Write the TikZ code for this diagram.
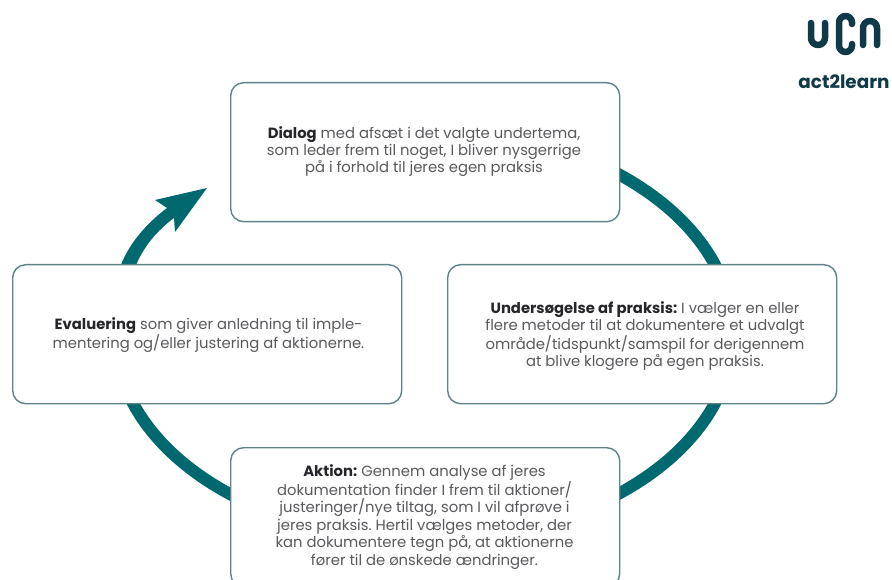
\documentclass[tikz,border=0pt]{standalone}
\usepackage{fontspec}
\setmainfont{Poppins}
\frenchspacing
\definecolor{ringteal}{HTML}{00696F}
\definecolor{boxedge}{HTML}{5F8388}
\definecolor{bodytext}{HTML}{5A5A5E}
\definecolor{headtext}{HTML}{26262A}
\definecolor{logoink}{HTML}{10394A}
\tikzset{
  card/.style={draw=boxedge,line width=1.4pt,fill=white,rounded corners=13pt,anchor=north west,inner sep=0pt},
  cardtext/.style={align=center,font=\fontsize{14.8}{17.4}\selectfont,text=bodytext,inner sep=0pt},
  ringline/.style={draw=ringteal,line width=12pt},
  logostroke/.style={draw=logoink,line width=6.5pt,line cap=round,line join=round}
}
\newcommand{\hd}[1]{\textcolor{headtext}{\textbf{#1}}}
\begin{document}
\begin{tikzpicture}[x=1pt,y=-1pt]
\useasboundingbox (0,0) rectangle (892,580);
\clip (0,0) rectangle (892,580);
\fill[white] (0,0) rectangle (892,580);
% ring arcs
\coordinate (ringA) at ({424+309*cos(-53)},{334+205.7*sin(-53)});
\coordinate (ringB) at ({424+309*cos(15)},{334+205.7*sin(15)});
\coordinate (ringC) at ({424+309*cos(127)},{334+205.7*sin(127)});
\draw[ringline] (ringA) arc[start angle=-53,end angle=-15,x radius=309,y radius=205.7];
\draw[ringline] (ringB) arc[start angle=15,end angle=53,x radius=309,y radius=205.7];
\draw[ringline] (ringC) arc[start angle=127,end angle=165,x radius=309,y radius=205.7];
% arrow
\fill[ringteal] (119,270) .. controls (128,244) and (146,224) .. (167,208)
  -- (155,200) -- (207,188) -- (175,232) -- (174,218)
  .. controls (158,230) and (143,246) .. (134,270) -- cycle;
% cards
\node[card,minimum width=389pt,minimum height=139pt] (dialog) at (230,82) {};
\node[card,minimum width=389pt,minimum height=139pt] (evaluering) at (12,264) {};
\node[card,minimum width=389pt,minimum height=139pt] (undersoegelse) at (447,264) {};
\node[card,minimum width=389pt,minimum height=139pt] (aktion) at (230,447) {};
\node[cardtext] (dialogtext) at (424,151.5) {\hd{Dialog} med afsæt i det valgte undertema,\\som leder frem til noget, I bliver nysgerrige\\på i forhold til jeres egen praksis};
\node[cardtext] (evalueringtext) at (208.5,335) {\hd{Evaluering} som giver anledning til imple-\\mentering og/eller justering af aktionerne.};
\node[cardtext] (undersoegelsetext) at (645,336) {\hd{Undersøgelse af praksis:} I vælger en eller\\flere metoder til at dokumentere et udvalgt\\område/tidspunkt/samspil for derigennem\\at blive klogere på egen praksis.};
\node[cardtext] (aktiontext) at (424.5,517) {\hd{Aktion:} Gennem analyse af jeres\\dokumentation finder I frem til aktioner/\\justeringer/nye tiltag, som I vil afprøve i\\jeres praksis. Hertil vælges metoder, der\\kan dokumentere tegn på, at aktionerne\\fører til de ønskede ændringer.};
% logo
\draw[logostroke] (811,23) -- (811,38) arc[start angle=180,end angle=0,radius=7] -- (825,23);
\draw[logostroke] (852,24) -- (852,22.5) arc[start angle=0,end angle=-180,radius=6.5] -- (839,45.5) arc[start angle=180,end angle=0,radius=6.5] -- (852,44);
\draw[logostroke] (863,45) -- (863,28) arc[start angle=180,end angle=360,radius=7] -- (877,45);
\node[font=\fontsize{18.4}{20}\selectfont\bfseries,text=logoink,inner sep=0pt] (logotext) at (844,82) {act2learn};
\end{tikzpicture}
\end{document}
